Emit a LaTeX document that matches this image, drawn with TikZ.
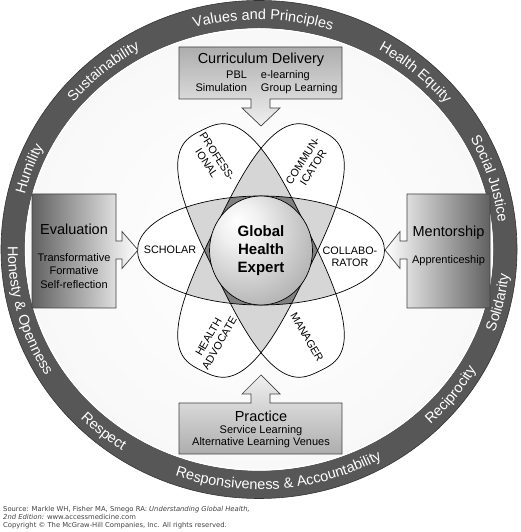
\documentclass[tikz,border=0pt]{standalone}
\usepackage{fontspec}
\setmainfont{Liberation Sans}
\newfontfamily\srcfont{DejaVu Sans}
\usetikzlibrary{decorations.text}
\pgfdeclareradialshading{globe}{\pgfpoint{-12bp}{14bp}}{color(0bp)=(white); color(10bp)=(black!6); color(35bp)=(black!30); color(55bp)=(black!50); color(75bp)=(black!62)}
\pgfdeclareradialshading{field}{\pgfpoint{0bp}{0bp}}{color(0bp)=(white); color(28bp)=(black!3); color(50bp)=(black!16)}
\newcommand{\ringfont}{\fontsize{14.5}{16}\selectfont}

\begin{document}
\begin{tikzpicture}[x=1pt,y=1pt]
\tikzstyle{every node}=[inner sep=0pt]
\tikzstyle{lobe}=[draw=black,line width=0.7pt]
\tikzstyle{lobeP}=[shift={(G)},rotate=-64]
\tikzstyle{lobeC}=[shift={(G)},rotate=64]
\tikzstyle{panel}=[draw=black!75,line width=0.7pt]
\tikzstyle{head}=[font=\fontsize{14.5}{17}\selectfont]
\tikzstyle{sub}=[font=\fontsize{11}{13.5}\selectfont,align=center]
\tikzstyle{role}=[font=\fontsize{10.8}{12.5}\selectfont,align=center]
\tikzstyle{uplabel}=[decorate,decoration={text along path,text align=center,text color=white}]
\tikzstyle{src}=[anchor=base west,font=\srcfont\fontsize{6.8}{8}\selectfont,text=black!75]

\useasboundingbox (0,0) rectangle (520,532);
\coordinate (O) at (259,282.5);
\coordinate (G) at (261,281.5);

% ring of values
\fill[black!66,even odd rule] (O) ellipse[x radius=258pt,y radius=249pt] (O) ellipse[x radius=234pt,y radius=221pt];
\shade[shading=field] (O) ellipse[x radius=234pt,y radius=221pt];
\draw[white,line width=1.2pt] (O) ellipse[x radius=233.5pt,y radius=220.5pt];
\draw[black!80,line width=0.6pt] (O) ellipse[x radius=258pt,y radius=249pt];

\path[uplabel,decoration={text={|\ringfont|Humility}}] (O) ++(200.2:241pt and 230pt) arc[start angle=200.2,end angle=120.2,x radius=241pt,y radius=230pt];
\path[uplabel,decoration={text={|\ringfont|Sustainability}}] (O) ++(170.4:241pt and 230pt) arc[start angle=170.4,end angle=90.4,x radius=241pt,y radius=230pt];
\path[uplabel,decoration={text={|\ringfont|Values and Principles}}] (O) ++(134:241pt and 230pt) arc[start angle=134,end angle=44,x radius=241pt,y radius=230pt];
\path[uplabel,decoration={text={|\ringfont|Health Equity}}] (O) ++(89.3:241pt and 230pt) arc[start angle=89.3,end angle=9.3,x radius=241pt,y radius=230pt];
\path[uplabel,decoration={text={|\ringfont|Social Justice}}] (O) ++(57.5:241pt and 230pt) arc[start angle=57.5,end angle=-22.5,x radius=241pt,y radius=230pt];
\path[uplabel,decoration={text={|\ringfont|Solidarity}}] (O) ++(-52.8:251pt and 240pt) arc[start angle=-52.8,end angle=27.2,x radius=251pt,y radius=240pt];
\path[uplabel,decoration={text={|\ringfont|Reciprocity}}] (O) ++(-78:251pt and 240pt) arc[start angle=-78,end angle=2,x radius=251pt,y radius=240pt];
\path[uplabel,decoration={text={|\ringfont|Responsiveness {\&} Accountability}}] (O) ++(-135:251pt and 240pt) arc[start angle=-135,end angle=-35,x radius=251pt,y radius=240pt];
\path[uplabel,decoration={text={|\ringfont|Respect}}] (O) ++(-169.7:251pt and 240pt) arc[start angle=-169.7,end angle=-89.7,x radius=251pt,y radius=240pt];
\path[uplabel,decoration={text={|\ringfont|Honesty {\&} Openness}}] (O) ++(-209.8:251pt and 240pt) arc[start angle=-209.8,end angle=-119.8,x radius=251pt,y radius=240pt];

% competency lobes
\def\lobeH{(G) ellipse[x radius=123.5pt,y radius=54.5pt]}
\def\lobeD{plot[domain=0:357,samples=120,smooth cycle,variable=\t] ({134*cos(\t)*pow(abs(cos(\t))+0.00001,-0.333)},{51*sin(\t)*pow(abs(sin(\t))+0.00001,-0.333)})}
\fill[white] \lobeH;
\fill[white,lobeP] \lobeD;
\fill[white,lobeC] \lobeD;
\begin{scope}
\clip \lobeH;
\fill[black!16,lobeP] \lobeD;
\fill[black!16,lobeC] \lobeD;
\end{scope}
\begin{scope}
\clip[lobeP] \lobeD;
\fill[black!16,lobeC] \lobeD;
\end{scope}
\begin{scope}
\clip \lobeH;
\clip[lobeP] \lobeD;
\fill[black!50,lobeC] \lobeD;
\end{scope}
\draw[lobe] \lobeH;
\draw[lobe,lobeP] \lobeD;
\draw[lobe,lobeC] \lobeD;

\node[role] (scholar) at (170,282) {SCHOLAR};
\node[role] (collab) at (350,275) {COLLABO-\\RATOR};
\node[role,rotate=-57] (prof) at (212,372) {PROFESS-\\IONAL};
\node[role,rotate=57] (comm) at (308,368) {COMMUN-\\ICATOR};
\node[role,rotate=60] (advoc) at (214,192) {HEALTH\\ADVOCATE};
\node[role,rotate=-60] (manager) at (307,195) {MANAGER};

\shade[shading=globe,draw=black,line width=0.7pt] (G) ellipse[x radius=51.5pt,y radius=54.5pt];
\node[font=\bfseries\fontsize{15}{18}\selectfont,align=center] (expert) at (G) {Global\\Health\\Expert};

% teaching panels
\shade[panel,top color=black!32,bottom color=black!6] (179,485) -- (342,485) -- (342,433) -- (270,433) -- (270,424) -- (280,424) -- (261,406) -- (242,424) -- (251,424) -- (251,433) -- (179,433) -- cycle;
\shade[panel,bottom color=black!32,top color=black!6] (179,78) -- (342,78) -- (342,129) -- (270,129) -- (270,138) -- (280,138) -- (261,157) -- (242,138) -- (251,138) -- (251,129) -- (179,129) -- cycle;
\shade[panel,left color=black!62,right color=white] (32,338) -- (116,338) -- (116,291) -- (122,291) -- (122,300.5) -- (138,282) -- (122,263.5) -- (122,273) -- (116,273) -- (116,224) -- (32,224) -- cycle;
\shade[panel,right color=black!62,left color=white] (490,338) -- (407,338) -- (407,291) -- (400,291) -- (400,300.5) -- (385,282) -- (400,263.5) -- (400,273) -- (407,273) -- (407,224) -- (490,224) -- cycle;

\node[head] (curr) at (261,472) {Curriculum Delivery};
\node[sub] (currsub) at (266.5,449.5) {\begin{tabular}{@{}r@{\hspace{14pt}}l@{}}PBL & e-learning\\ Simulation & Group Learning\end{tabular}};
\node[head] (prac) at (261,116) {Practice};
\node[sub,font=\fontsize{11}{12}\selectfont] (pracsub) at (261,95) {Service Learning\\Alternative Learning Venues};
\node[head] (eval) at (74,303) {Evaluation};
\node[sub] (evalsub) at (74,261) {Transformative\\Formative\\Self-reflection};
\node[head] (ment) at (448.5,299) {Mentorship};
\node[sub] (mentsub) at (448.5,271) {Apprenticeship};

% source line
\node[src] (src1) at (3,20.5) {Source: Markle WH, Fisher MA, Smego RA: \textit{Understanding Global Health,}};
\node[src] (src2) at (3,12.5) {\textit{2nd Edition:} www.accessmedicine.com};
\node[src] (src3) at (3,4.5) {Copyright © The McGraw-Hill Companies, Inc. All rights reserved.};
\end{tikzpicture}
\end{document}
